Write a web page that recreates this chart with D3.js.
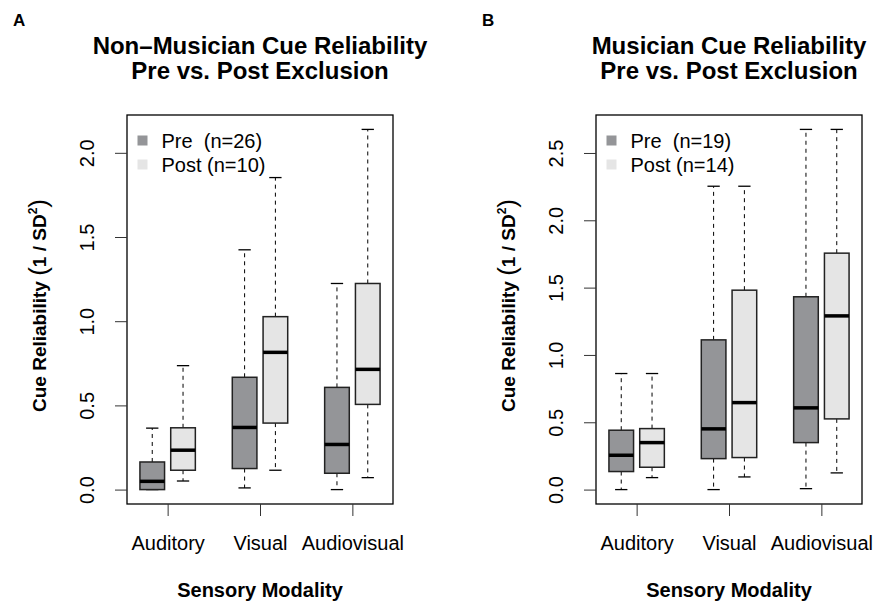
<!DOCTYPE html>
<meta charset="utf-8">
<script src="https://d3js.org/d3.v7.min.js"></script>
<style>
  body { margin: 0; background: #fff; }
  text { font-family: "Liberation Sans", Arial, Helvetica, sans-serif; }
</style>
<div id="page"></div>
<script>

  // Data: [lower whisker, Q1, median, Q3, upper whisker]
  var groups = ["Auditory", "Visual", "Audiovisual"];
  var series = ["Pre", "Post"];

  var nonMusicianPre = [[0.0, 0.0, 0.049, 0.164, 0.365], [0.01, 0.125, 0.369, 0.667, 1.424], [0.0, 0.097, 0.268, 0.607, 1.224]];
  var nonMusicianPost = [[0.051, 0.115, 0.234, 0.367, 0.736], [0.115, 0.395, 0.815, 1.027, 1.853], [0.071, 0.506, 0.714, 1.224, 2.139]];
  var nonMusicianN = [26, 10];
  var nonMusicianTicks = [0, 0.5, 1, 1.5, 2];

  var musicianPre = [[0.0, 0.134, 0.255, 0.441, 0.862], [0.0, 0.23, 0.451, 1.112, 2.253], [0.007, 0.349, 0.607, 1.432, 2.675]];
  var musicianPost = [[0.089, 0.166, 0.349, 0.453, 0.862], [0.094, 0.238, 0.646, 1.481, 2.253], [0.124, 0.525, 1.29, 1.756, 2.675]];
  var musicianN = [19, 14];
  var musicianTicks = [0, 0.5, 1, 1.5, 2, 2.5];

  var fills = ["#949598", "#e5e5e5"];

  var width = 879, height = 603;
  var plotTop = 115, plotH = 389, plotW = 266;

  var svg = d3.select("#page")
    .append("svg")
    .attr("width", width)
    .attr("height", height);

  function drawPanel(p) {
    var g = svg.append("g")
      .attr("transform", "translate(" + p.left + "," + plotTop + ")");

    // R style axis padding (4%)
    var all = p.pre.concat(p.post).flat();
    var lo = d3.min(all), hi = d3.max(all), pad = (hi - lo) * 0.04;
    var y = d3.scaleLinear().domain([lo - pad, hi + pad]).range([plotH, 0]);
    var x = d3.scaleLinear().domain([0.5 - 0.32, 8.5 + 0.32]).range([0, plotW]);

    var boxes = [];
    groups.forEach(function (grp, gi) {
      [p.pre, p.post].forEach(function (arr, si) {
        boxes.push({ pos: gi * 3 + si + 1, s: arr[gi], si: si });
      });
    });

    var b = g.selectAll(".box").data(boxes).enter().append("g").attr("class", "box");

    // whiskers
    b.append("line")
      .attr("x1", function (d) { return x(d.pos); })
      .attr("x2", function (d) { return x(d.pos); })
      .attr("y1", function (d) { return y(d.s[3]); })
      .attr("y2", function (d) { return y(d.s[4]); })
      .attr("stroke", "#000").attr("stroke-dasharray", "4,4");
    b.append("line")
      .attr("x1", function (d) { return x(d.pos); })
      .attr("x2", function (d) { return x(d.pos); })
      .attr("y1", function (d) { return y(d.s[1]); })
      .attr("y2", function (d) { return y(d.s[0]); })
      .attr("stroke", "#000").attr("stroke-dasharray", "4,4");

    // staples
    [0, 4].forEach(function (k) {
      b.append("line")
        .attr("x1", function (d) { return x(d.pos - 0.2); })
        .attr("x2", function (d) { return x(d.pos + 0.2); })
        .attr("y1", function (d) { return y(d.s[k]); })
        .attr("y2", function (d) { return y(d.s[k]); })
        .attr("stroke", "#000").attr("stroke-width", 1.3);
    });

    // boxes
    b.append("rect")
      .attr("x", function (d) { return x(d.pos - 0.4); })
      .attr("y", function (d) { return y(d.s[3]); })
      .attr("width", function (d) { return x(d.pos + 0.4) - x(d.pos - 0.4); })
      .attr("height", function (d) { return y(d.s[1]) - y(d.s[3]); })
      .attr("fill", function (d) { return fills[d.si]; })
      .attr("stroke", "#222").attr("stroke-width", 1.5);

    // medians
    b.append("line")
      .attr("x1", function (d) { return x(d.pos - 0.4); })
      .attr("x2", function (d) { return x(d.pos + 0.4); })
      .attr("y1", function (d) { return y(d.s[2]); })
      .attr("y2", function (d) { return y(d.s[2]); })
      .attr("stroke", "#000").attr("stroke-width", 3.5);

    // frame
    g.append("rect")
      .attr("width", plotW).attr("height", plotH)
      .attr("fill", "none").attr("stroke", "#000").attr("stroke-width", 1.3);

    // y axis
    var ya = g.append("g")
      .call(d3.axisLeft(y).tickValues(p.ticks).tickSize(12).tickFormat(d3.format(".1f")));
    ya.select(".domain").remove();
    ya.selectAll("line").attr("stroke", "#333");
    ya.selectAll("text")
      .attr("x", null).attr("dy", null)
      .attr("transform", "translate(-33,0) rotate(-90)")
      .attr("text-anchor", "middle")
      .attr("font-size", 20)
      .attr("fill", "#000")
      .attr("font-family", "Liberation Sans, Arial, sans-serif");

    // x axis
    var xa = g.append("g")
      .attr("transform", "translate(0," + plotH + ")")
      .call(d3.axisBottom(x)
        .tickValues(groups.map(function (d, i) { return i * 3 + 1.5; }))
        .tickFormat(function (d, i) { return groups[i]; })
        .tickSize(12));
    xa.select(".domain").remove();
    xa.selectAll("line").attr("stroke", "#333");
    xa.selectAll("text")
      .attr("y", 46).attr("dy", null)
      .attr("font-size", 20)
      .attr("fill", "#000")
      .attr("font-family", "Liberation Sans, Arial, sans-serif");

    // legend
    var lg = g.selectAll(".leg").data(series).enter().append("g")
      .attr("class", "leg")
      .attr("transform", function (d, i) { return "translate(0," + (33 + i * 24) + ")"; });
    lg.append("rect")
      .attr("x", 10.5).attr("y", -12.5).attr("width", 10).attr("height", 10)
      .attr("fill", function (d, i) { return fills[i]; });
    lg.append("text")
      .attr("x", 34.5)
      .attr("font-size", 20)
      .style("white-space", "pre")
      .text(function (d, i) { return (d == "Pre" ? "Pre  " : "Post ") + "(n=" + p.n[i] + ")"; });

    // titles
    var t = svg.append("text")
      .attr("text-anchor", "middle")
      .attr("font-size", 24)
      .attr("font-weight", "bold");
    t.append("tspan").attr("x", p.left + plotW / 2).attr("y", 54).text(p.title);
    t.append("tspan").attr("x", p.left + plotW / 2).attr("y", 79).text("Pre vs. Post Exclusion");

    svg.append("text")
      .attr("x", p.left + plotW / 2).attr("y", 597)
      .attr("text-anchor", "middle")
      .attr("font-size", 20).attr("font-weight", "bold")
      .text("Sensory Modality");

    var yl = svg.append("text")
      .attr("transform", "translate(" + (p.left - 81) + "," + (plotTop + plotH / 2 - 4) + ") rotate(-90)")
      .attr("text-anchor", "middle")
      .attr("font-size", 19).attr("font-weight", "bold");
    yl.append("tspan").text("Cue Reliability ");
    yl.append("tspan").attr("font-weight", "normal").attr("font-size", 26).attr("dy", 1).text("(");
    yl.append("tspan").attr("dy", -1).text("1 / SD");
    yl.append("tspan").attr("font-size", 12).attr("dy", -9).text("2");
    yl.append("tspan").attr("font-weight", "normal").attr("font-size", 26).attr("dy", 10).text(")");

    svg.append("text")
      .attr("x", p.letterX).attr("y", 26)
      .attr("font-size", 17).attr("font-weight", "bold")
      .text(p.letter);
  }

  drawPanel({ left: 127, pre: nonMusicianPre, post: nonMusicianPost, n: nonMusicianN, ticks: nonMusicianTicks,
    title: "Non\u2013Musician Cue Reliability", letter: "A", letterX: 13 });
  drawPanel({ left: 596, pre: musicianPre, post: musicianPost, n: musicianN, ticks: musicianTicks,
    title: "Musician Cue Reliability", letter: "B", letterX: 482 });

</script>
